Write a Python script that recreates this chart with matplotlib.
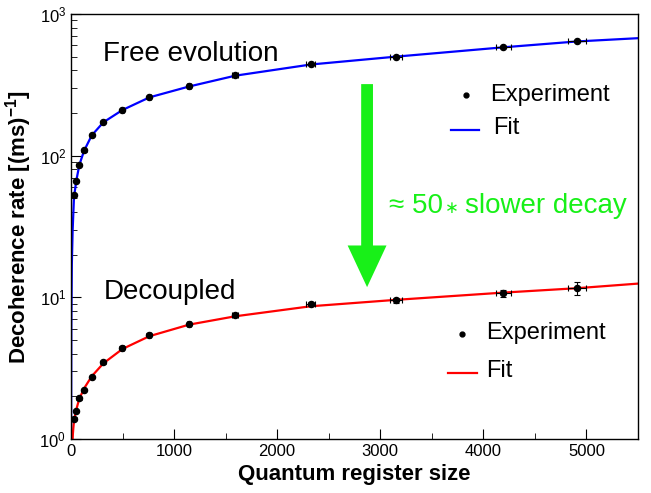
import numpy as np
import matplotlib
matplotlib.use('Agg')
import matplotlib.pyplot as plt

plt.rcParams['font.family'] = ['Liberation Sans', 'DejaVu Sans']
plt.rcParams['mathtext.fontset'] = 'custom'
plt.rcParams['mathtext.rm'] = 'Liberation Sans'
plt.rcParams['mathtext.bf'] = 'Liberation Sans:bold'

# measured register sizes
N = [29, 52, 81, 126, 201, 314, 499, 761, 1147, 1594, 2326, 3152, 4195, 4908]
N_err = [3, 4, 5, 6, 8, 10, 12, 15, 20, 30, 44, 55, 71, 84]

# free evolution decoherence rates
free_rate = [53, 66.5, 86, 109, 141, 173, 211, 259, 308, 369, 441, 499, 581, 644]
free_err = [1, 1, 1.5, 2, 2, 3, 3, 4, 5, 6, 7, 8, 10, 11]

# decoupled decoherence rates
dec_rate = [1.39, 1.57, 1.94, 2.22, 2.74, 3.48, 4.41, 5.45, 6.48, 7.50, 8.93, 9.52, 10.7, 11.6]
dec_err = [0.03, 0.03, 0.04, 0.05, 0.06, 0.08, 0.1, 0.12, 0.15, 0.2, 0.3, 0.45, 0.65, 1.2]

# fit curves
free_fit_N = [1, 3, 8, 16, 29, 52, 81, 126, 201, 314, 499, 761, 1147, 1594, 2326, 3152, 4195, 4908, 5500]
free_fit = [1.0, 6, 17, 30, 51, 67, 86, 108, 139, 172, 210, 258, 308, 367, 440, 500, 582, 640, 675]
dec_fit_N = [16, 18, 22, 29, 52, 78, 126, 201, 314, 499, 761, 1147, 1594, 2326, 3152, 4195, 4908, 5500]
dec_fit = [1.0, 1.08, 1.18, 1.34, 1.62, 1.9, 2.27, 2.77, 3.42, 4.32, 5.32, 6.42, 7.35, 8.65, 9.6, 10.8, 11.6, 12.5]

fig = plt.figure(figsize=(6.51, 4.93), dpi=100)
ax = fig.add_axes([71/651, 1 - 439/493, 567/651, 425/493])

ax.plot(free_fit_N, free_fit, color='#0000ff', lw=1.6, zorder=2)
ax.plot(dec_fit_N, dec_fit, color='#ff0000', lw=1.6, zorder=2)
ax.errorbar(N, free_rate, xerr=N_err, yerr=free_err, fmt='o', color='black',
            ms=4.4, elinewidth=0.8, capsize=2.2, capthick=0.8, zorder=3)
ax.errorbar(N, dec_rate, xerr=N_err, yerr=dec_err, fmt='o', color='black',
            ms=4.4, elinewidth=0.8, capsize=2.2, capthick=0.8, zorder=3)

ax.set_yscale('log')
ax.set_xlim(0, 5500)
ax.set_ylim(1, 1000)
ax.set_xticks([0, 1000, 2000, 3000, 4000, 5000])
ax.set_xticks(np.arange(500, 5500, 1000), minor=True)
ax.tick_params(axis='both', which='both', direction='in', top=False, right=False, labelsize=12)
ax.tick_params(axis='both', which='major', length=7, width=0.8)
ax.tick_params(axis='both', which='minor', length=4, width=0.6)
for s in ax.spines.values():
    s.set_linewidth(1.0)

ax.set_xlabel('Quantum register size', fontsize=16, fontweight='bold', labelpad=4)
ax.set_ylabel(r'Decoherence rate [(ms)$^{\mathbf{-1}}$]', fontsize=16, fontweight='bold', labelpad=4)

ax.text(0.057, 0.905, 'Free evolution', transform=ax.transAxes, fontsize=20, va='center')
ax.text(0.057, 0.345, 'Decoupled', transform=ax.transAxes, fontsize=20, va='center')

# legends drawn by hand
ax.plot([0.697], [0.81], 'o', color='black', ms=3.5, transform=ax.transAxes)
ax.text(0.74, 0.81, 'Experiment', transform=ax.transAxes, fontsize=17, va='center')
ax.plot([0.67, 0.72], [0.727, 0.727], color='#0000ff', lw=1.6, transform=ax.transAxes)
ax.text(0.744, 0.732, 'Fit', transform=ax.transAxes, fontsize=17, va='center')

ax.plot([0.69], [0.247], 'o', color='black', ms=3.5, transform=ax.transAxes)
ax.text(0.733, 0.25, 'Experiment', transform=ax.transAxes, fontsize=17, va='center')
ax.plot([0.665, 0.716], [0.155, 0.155], color='#ff0000', lw=1.6, transform=ax.transAxes)
ax.text(0.733, 0.16, 'Fit', transform=ax.transAxes, fontsize=17, va='center')

green = '#18f018'
ax.annotate('', xy=(2872, 11.8), xytext=(2872, 320),
            arrowprops=dict(width=8.5, headwidth=28, headlength=30, color=green, lw=0))
t1 = ax.text(0.561, 0.517, '≈ 50', transform=ax.transAxes, fontsize=20,
             color=green, va='bottom')
ax.annotate('∗', xy=(1, 0.42), xycoords=t1, xytext=(1, 0), textcoords='offset points',
            fontsize=12, color=green, va='center', ha='left')
ax.annotate('slower decay', xy=(1, 0), xycoords=t1, xytext=(16, 0), textcoords='offset points',
            fontsize=20, color=green, va='bottom', ha='left')

fig.savefig('out.png', dpi=100)
